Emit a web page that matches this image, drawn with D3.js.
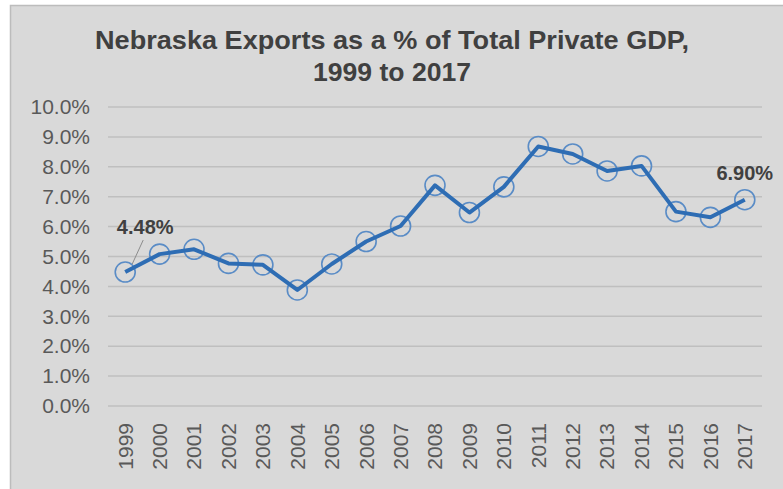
<!DOCTYPE html>
<html><head><meta charset="utf-8">
<script src="https://cdn.jsdelivr.net/npm/d3@7"></script>
<style>html,body{margin:0;padding:0;background:#fff;}svg{display:block;}</style>
</head><body>
<svg id="chart" width="783" height="489"></svg>
<script>
const years = ["1999","2000","2001","2002","2003","2004","2005","2006","2007","2008","2009","2010","2011","2012","2013","2014","2015","2016","2017"];
const values = [4.48,5.08,5.24,4.77,4.72,3.88,4.75,5.50,6.02,7.38,6.47,7.33,8.68,8.43,7.86,8.03,6.50,6.31,6.90];
const yTicks = [0,1,2,3,4,5,6,7,8,9,10];
const titleLines = ["Nebraska Exports as a % of Total Private GDP,","1999 to 2017"];
const labelled = {"1999":"4.48%","2017":"6.90%"};

(function(){
const svg = d3.select("#chart");
svg.append("rect").attr("x",10.5).attr("y",5.5).attr("width",790).attr("height",500)
  .attr("fill","#d9d9d9").attr("stroke","#bcbcbc").attr("stroke-width",1.5);

const pL=108,pR=762,pT=107,pB=406;
const x = d3.scaleBand().domain(years).range([pL,pR]);
const y = d3.scaleLinear().domain([0,10]).range([pB,pT]);
const cx = d => x(d)+x.bandwidth()/2;

svg.append("g").selectAll("text").data(titleLines).join("text")
  .attr("x",392).attr("y",(d,i)=>49+i*32).attr("text-anchor","middle")
  .attr("font-family","Liberation Sans, Arial, sans-serif").attr("font-weight","bold")
  .attr("font-size",26).attr("fill","#404040")
  .attr("textLength",(d,i)=>i===0?594:158).attr("lengthAdjust","spacingAndGlyphs")
  .text(d=>d);

svg.append("g").selectAll("line").data(yTicks).join("line")
  .attr("x1",pL).attr("x2",pR).attr("y1",d=>y(d)).attr("y2",d=>y(d))
  .attr("stroke","#bfbfbf").attr("stroke-width",1.5);

const yAxis = svg.append("g").attr("transform",`translate(${pL},0)`)
  .call(d3.axisLeft(y).tickValues(yTicks).tickFormat(d=>d.toFixed(1)+"%").tickSize(0).tickPadding(18));
yAxis.select(".domain").remove();
yAxis.selectAll("text").attr("font-family","Liberation Sans, Arial, sans-serif")
  .attr("font-size",21).attr("fill","#595959");

const xAxis = svg.append("g").attr("transform",`translate(0,${pB})`)
  .call(d3.axisBottom(x).tickSize(0).tickPadding(0));
xAxis.select(".domain").remove();
xAxis.selectAll("text").attr("font-family","Liberation Sans, Arial, sans-serif")
  .attr("font-size",21).attr("fill","#595959")
  .attr("transform","rotate(-90)").attr("text-anchor","end")
  .attr("x",-17).attr("y",0).attr("dy","0.35em");

svg.append("g").selectAll("circle").data(years).join("circle")
  .attr("cx",d=>cx(d)).attr("cy",(d,i)=>y(values[i])).attr("r",10)
  .attr("fill","none").attr("stroke","#5a8cc6").attr("stroke-width",1.6);

const line = d3.line().x(d=>cx(d[0])).y(d=>y(d[1]));
svg.append("path").datum(years.map((d,i)=>[d,values[i]])).attr("d",line)
  .attr("fill","none").attr("stroke","#2e6db4").attr("stroke-width",4).attr("stroke-linejoin","round");

const i0 = 0, iN = years.length-1;
svg.append("line").attr("x1",cx(years[i0])+7).attr("y1",y(values[i0])-8)
  .attr("x2",cx(years[i0])+18).attr("y2",y(values[i0])-32)
  .attr("stroke","#8c8c8c").attr("stroke-width",1);
svg.append("text").attr("x",cx(years[i0])+20).attr("y",y(values[i0])-38)
  .attr("text-anchor","middle").attr("font-family","Liberation Sans, Arial, sans-serif")
  .attr("font-weight","bold").attr("font-size",20).attr("fill","#404040").text(labelled[years[i0]]);
svg.append("text").attr("x",cx(years[iN])).attr("y",y(values[iN])-20)
  .attr("text-anchor","middle").attr("font-family","Liberation Sans, Arial, sans-serif")
  .attr("font-weight","bold").attr("font-size",20).attr("fill","#404040").text(labelled[years[iN]]);
})();
</script>
</body></html>
